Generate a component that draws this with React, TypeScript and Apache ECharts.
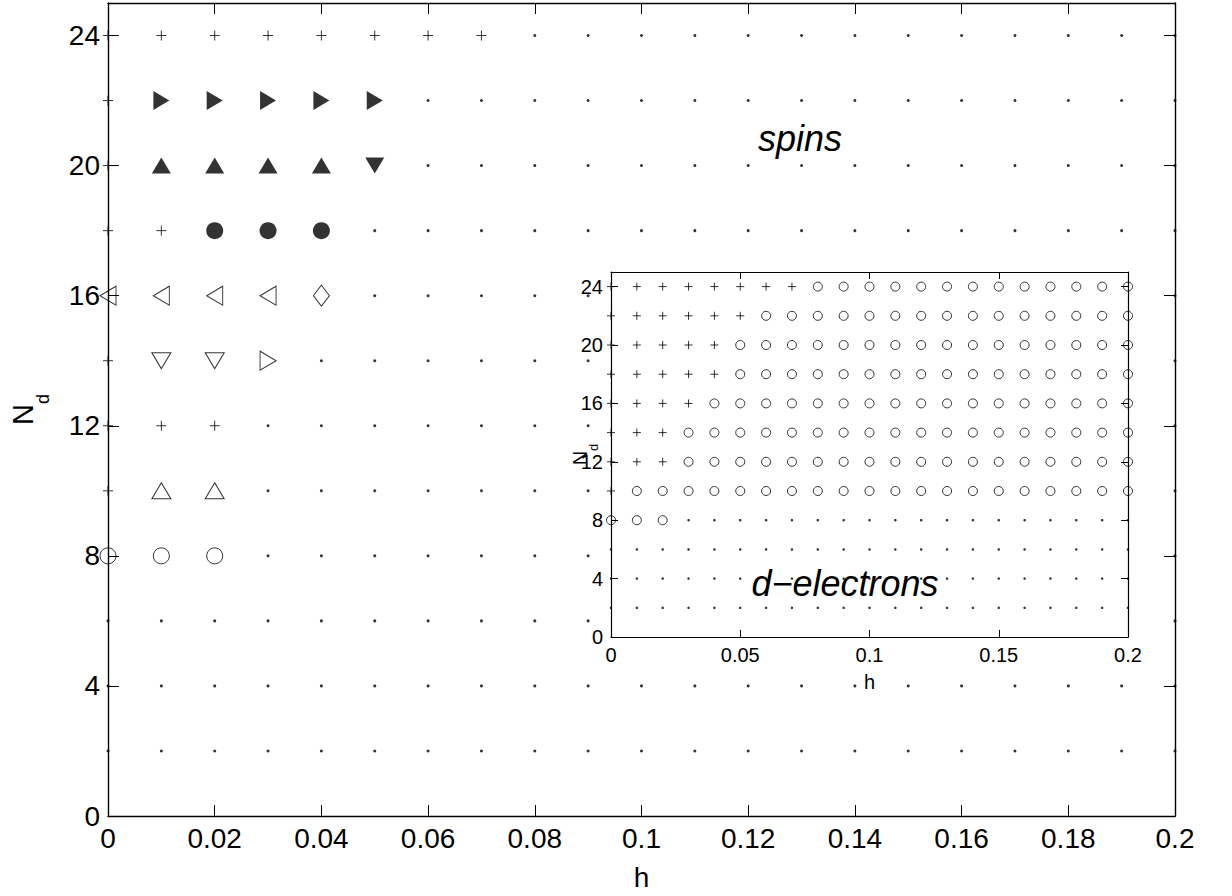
import React, { useEffect, useRef } from 'react';
import * as echarts from 'echarts';

// h values (columns of the marker tables)
const hValues = [0, 0.01, 0.02, 0.03, 0.04, 0.05, 0.06, 0.07, 0.08, 0.09, 0.1, 0.11, 0.12, 0.13, 0.14, 0.15, 0.16, 0.17, 0.18, 0.19, 0.2];
// N_d values (rows of the marker tables, top to bottom)
const ndValues = [24, 22, 20, 18, 16, 14, 12, 10, 8, 6, 4, 2];

// Marker code per (N_d, h) as runs along h.
// '+' plus, '.' dot, 'R' filled right-triangle, 'U' filled up-triangle, 'D' filled down-triangle,
// 'C' filled circle, 'l' open left-triangle, 'm' open diamond, 'v' open down-triangle,
// 'r' open right-triangle, 'u' open up-triangle, 'o' open circle
type Run = [string, number];
const spinsRuns: Run[][] = [
  [['+', 8], ['.', 13]],
  [['+', 1], ['R', 5], ['.', 15]],
  [['+', 1], ['U', 4], ['D', 1], ['.', 15]],
  [['+', 2], ['C', 3], ['.', 16]],
  [['l', 4], ['m', 1], ['.', 16]],
  [['+', 1], ['v', 2], ['r', 1], ['.', 17]],
  [['+', 3], ['.', 18]],
  [['+', 1], ['u', 2], ['.', 18]],
  [['o', 3], ['.', 18]],
  [['.', 21]],
  [['.', 21]],
  [['.', 21]],
];
const electronRuns: Run[][] = [
  [['+', 8], ['o', 13]],
  [['+', 6], ['o', 15]],
  [['+', 5], ['o', 16]],
  [['+', 5], ['o', 16]],
  [['+', 4], ['o', 17]],
  [['+', 3], ['o', 18]],
  [['+', 3], ['o', 18]],
  [['+', 1], ['o', 20]],
  [['o', 3], ['.', 18]],
  [['.', 21]],
  [['.', 21]],
  [['.', 21]],
];

const mainXInterval = 0.02;
const mainYInterval = 4;
const insetXInterval = 0.05;
const insetYInterval = 4;
const axisMax = { h: 0.2, nd: 25 };

const FONT = '"Liberation Sans", Arial, Helvetica, sans-serif';
const PLUS = 'path://M0,5L10,5M5,0L5,10';

type MarkerStyle = { symbol: string; size: number | number[]; rotate?: number; open: boolean };

const mainStyles: Record<string, MarkerStyle> = {
  '+': { symbol: PLUS, size: 10, open: true },
  '.': { symbol: 'circle', size: 3, open: false },
  R: { symbol: 'triangle', size: [19, 16], rotate: -90, open: false },
  U: { symbol: 'triangle', size: [19, 16], open: false },
  D: { symbol: 'triangle', size: [19, 16], rotate: 180, open: false },
  C: { symbol: 'circle', size: 17, open: false },
  l: { symbol: 'triangle', size: [19, 16], rotate: 90, open: true },
  m: { symbol: 'diamond', size: [16, 21], open: true },
  v: { symbol: 'triangle', size: [19, 16], rotate: 180, open: true },
  r: { symbol: 'triangle', size: [19, 16], rotate: -90, open: true },
  u: { symbol: 'triangle', size: [19, 16], open: true },
  o: { symbol: 'circle', size: 16, open: true },
};
const insetStyles: Record<string, MarkerStyle> = {
  '+': { symbol: PLUS, size: 8, open: true },
  '.': { symbol: 'circle', size: 2.5, open: false },
  o: { symbol: 'circle', size: 9, open: true },
};

function pointsByCode(runs: Run[][]): Record<string, number[][]> {
  const out: Record<string, number[][]> = {};
  runs.forEach((row, i) => {
    let j = 0;
    row.forEach(([code, count]) => {
      for (let k = 0; k < count; k++) {
        (out[code] = out[code] || []).push([hValues[j], ndValues[i]]);
        j++;
      }
    });
  });
  return out;
}

function buildSeries(runs: Run[][], styles: Record<string, MarkerStyle>, axisIdx: number, z: number) {
  const groups = pointsByCode(runs);
  return Object.keys(groups).map((code) => {
    const st = styles[code];
    return {
      type: 'scatter',
      xAxisIndex: axisIdx,
      yAxisIndex: axisIdx,
      data: groups[code],
      symbol: st.symbol,
      symbolSize: st.size,
      symbolRotate: st.rotate || 0,
      clip: false,
      silent: true,
      z,
      itemStyle: st.open
        ? { color: 'rgba(0,0,0,0)', borderColor: '#000', borderWidth: 1 }
        : { color: '#000', borderWidth: 0 },
    };
  });
}

function xAxisDef(grid: number, pos: string, interval: number, fontSize: number, tickLen: number, showLabel: boolean, lw: number, extra: any = {}) {
  return {
    gridIndex: grid,
    type: 'value',
    position: pos,
    min: 0,
    max: axisMax.h,
    interval,
    axisLine: { show: true, onZero: false, lineStyle: { color: '#000', width: lw } },
    axisTick: { show: true, inside: true, length: tickLen, lineStyle: { color: '#000', width: 1 } },
    axisLabel: { show: showLabel, fontSize, color: '#000', fontFamily: FONT, margin: 8 },
    splitLine: { show: false },
    nameMoveOverlap: false,
    ...extra,
  };
}

function yAxisDef(grid: number, pos: string, interval: number, fontSize: number, tickLen: number, showLabel: boolean, lw: number, extra: any = {}) {
  return {
    gridIndex: grid,
    type: 'value',
    position: pos,
    min: 0,
    max: axisMax.nd,
    interval,
    axisLine: { show: true, onZero: false, lineStyle: { color: '#000', width: lw } },
    axisTick: { show: true, inside: true, length: tickLen, lineStyle: { color: '#000', width: 1 } },
    axisLabel: { show: showLabel, showMaxLabel: false, fontSize, color: '#000', fontFamily: FONT, margin: 8 },
    splitLine: { show: false },
    nameMoveOverlap: false,
    ...extra,
  };
}

export default function App() {
  const ref = useRef<HTMLDivElement>(null);
  useEffect(() => {
    document.body.style.margin = '0';
    if (!ref.current) return;
    const chart = echarts.init(ref.current, undefined, { renderer: 'svg' });
    const option: any = {
      animation: false,
      backgroundColor: '#fff',
      grid: [
        { left: 107, right: 57, top: 3, bottom: 79, show: false },
        { left: 611, top: 272, width: 517, height: 365, show: true, backgroundColor: '#fff', borderWidth: 0, z: 10 },
      ],
      xAxis: [
        xAxisDef(0, 'bottom', mainXInterval, 28, 11, true, 1.4, {
          name: 'h', nameLocation: 'middle', nameGap: 47,
          nameTextStyle: { fontSize: 28, color: '#000', fontFamily: FONT },
        }),
        xAxisDef(0, 'top', mainXInterval, 28, 11, false, 1.4),
        xAxisDef(1, 'bottom', insetXInterval, 20, 7, true, 1.2, {
          z: 11, name: 'h', nameLocation: 'middle', nameGap: 35,
          nameTextStyle: { fontSize: 20, color: '#000', fontFamily: FONT },
        }),
        xAxisDef(1, 'top', insetXInterval, 20, 7, false, 1.2, { z: 11 }),
      ],
      yAxis: [
        yAxisDef(0, 'left', mainYInterval, 28, 11, true, 1.4, {
          name: '{n|N}{d|d}', nameLocation: 'middle', nameGap: 71, nameRotate: 90,
          nameTextStyle: {
            color: '#000', fontFamily: FONT,
            rich: {
              n: { fontSize: 29, lineHeight: 29, verticalAlign: 'top', fontFamily: FONT, color: '#000' },
              d: { fontSize: 18, lineHeight: 18, verticalAlign: 'top', padding: [26, 0, 0, 0], fontFamily: FONT, color: '#000' },
            },
          },
        }),
        yAxisDef(0, 'right', mainYInterval, 28, 11, false, 1.4),
        yAxisDef(1, 'left', insetYInterval, 20, 7, true, 1.2, {
          z: 11, name: '{n|N}{d|d}', nameLocation: 'middle', nameGap: 21, nameRotate: 90,
          nameTextStyle: {
            color: '#000', fontFamily: FONT,
            rich: {
              n: { fontSize: 20, lineHeight: 20, verticalAlign: 'top', fontFamily: FONT, color: '#000' },
              d: { fontSize: 13, lineHeight: 13, verticalAlign: 'top', padding: [17, 0, 0, 0], fontFamily: FONT, color: '#000' },
            },
          },
        }),
        yAxisDef(1, 'right', insetYInterval, 20, 7, false, 1.2, { z: 11 }),
      ],
      series: [
        ...buildSeries(spinsRuns, mainStyles, 0, 2),
        ...buildSeries(electronRuns, insetStyles, 2, 12),
      ],
      graphic: [
        {
          type: 'text', x: 800, y: 138, z: 20, silent: true,
          style: { text: 'spins', fontSize: 36, fontStyle: 'italic', fontFamily: FONT, fill: '#000', align: 'center', verticalAlign: 'middle' },
        },
        {
          type: 'text', x: 845, y: 583, z: 20, silent: true,
          style: { text: 'd\u2212electrons', fontSize: 36, fontStyle: 'italic', fontFamily: FONT, fill: '#000', align: 'center', verticalAlign: 'middle' },
        },
      ],
    };
    chart.setOption(option);
    return () => chart.dispose();
  }, []);
  return <div ref={ref} style={{ width: 1232, height: 896 }} />;
}
